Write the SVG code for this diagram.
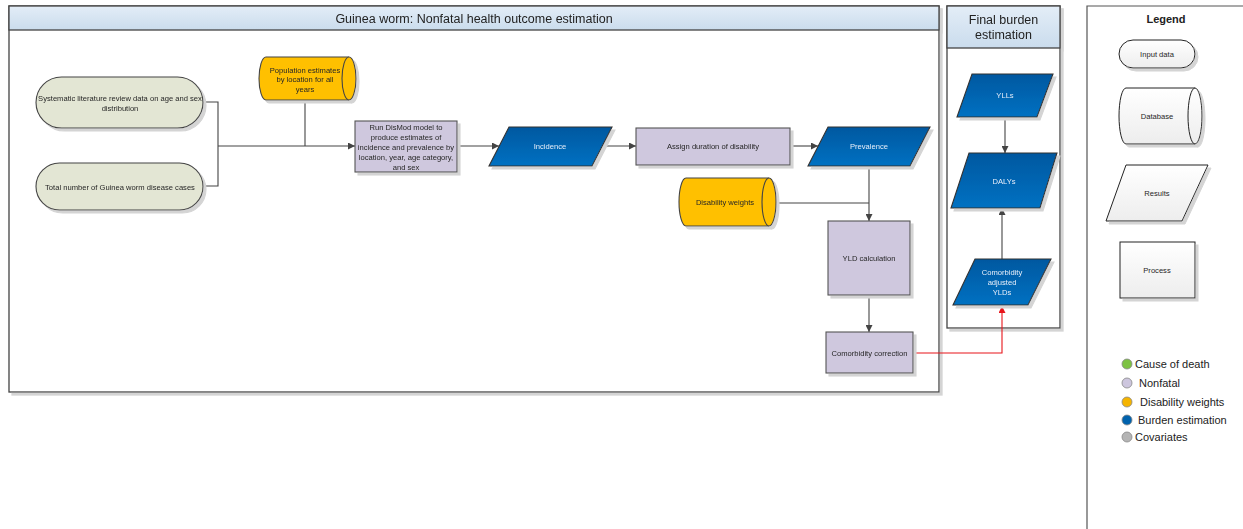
<svg xmlns="http://www.w3.org/2000/svg" width="1243" height="529" viewBox="0 0 1243 529">
  <style>
    .lbl { font-family: "Liberation Sans", Arial, sans-serif; font-size: 7.6px; fill: #262626; text-anchor: middle; dominant-baseline: central; }
    .wlbl { font-family: "Liberation Sans", Arial, sans-serif; font-size: 7.6px; fill: #e6eefa; text-anchor: middle; dominant-baseline: central; }
    .title { font-family: "Liberation Sans", Arial, sans-serif; font-size: 12.5px; fill: #222; text-anchor: middle; dominant-baseline: central; }
    .leg { font-family: "Liberation Sans", Arial, sans-serif; font-size: 11px; fill: #222; dominant-baseline: central; }
    .frame { fill: #fff; stroke: #444; stroke-width: 1.3; }
    .hdr { fill: url(#hdrGrad); stroke: #444; stroke-width: 1.3; }
    .input { fill: #e3e6d4; stroke: #444; stroke-width: 1.1; }
    .db { fill: #ffc000; stroke: #444; stroke-width: 1.1; }
    .proc { fill: #cfc8de; stroke: #555; stroke-width: 1.1; }
    .res { fill: url(#blueGrad); stroke: #333; stroke-width: 1.1; }
    .lgshape { fill: url(#legGrad); stroke: #222; stroke-width: 1; }
    .conn { fill: none; stroke: #444; stroke-width: 1.1; }
    .red { fill: none; stroke: #e8151b; stroke-width: 1.1; }
  </style>
  <defs>
    <linearGradient id="hdrGrad" x1="0" y1="0" x2="0" y2="1">
      <stop offset="0" stop-color="#e3edf7"/>
      <stop offset="1" stop-color="#cadced"/>
    </linearGradient>
    <linearGradient id="blueGrad" x1="0" y1="0" x2="0" y2="1">
      <stop offset="0" stop-color="#0058a0"/>
      <stop offset="1" stop-color="#0071c2"/>
    </linearGradient>
    <linearGradient id="legGrad" x1="0" y1="0" x2="0" y2="1">
      <stop offset="0" stop-color="#ffffff"/>
      <stop offset="1" stop-color="#ededed"/>
    </linearGradient>
    <filter id="shadow" x="-10%" y="-10%" width="130%" height="140%">
      <feOffset in="SourceAlpha" dx="2.5" dy="2.5" result="off"/>
      <feFlood flood-color="#d4d4d4"/>
      <feComposite in2="off" operator="in" result="sh"/>
      <feMerge><feMergeNode in="sh"/><feMergeNode in="SourceGraphic"/></feMerge>
    </filter>
    <marker id="arr" viewBox="0 0 10 10" refX="10" refY="5" markerWidth="7" markerHeight="7" markerUnits="userSpaceOnUse" orient="auto">
      <path d="M0,0 L10,5 L0,10 Z" fill="#444"/>
    </marker>
    <marker id="arrRed" viewBox="0 0 10 10" refX="10" refY="5" markerWidth="7" markerHeight="7" markerUnits="userSpaceOnUse" orient="auto">
      <path d="M0,0 L10,5 L0,10 Z" fill="#e8151b"/>
    </marker>
  </defs>

  <rect width="1243" height="529" fill="#ffffff"/>

  <!-- Swimlane: nonfatal estimation -->
  <g id="lane-nonfatal" filter="url(#shadow)">
    <rect class="frame" x="9" y="6" width="930" height="386"/>
    <rect class="hdr" x="9" y="6" width="930" height="24"/>
    <text class="title" x="474" y="18.5">Guinea worm: Nonfatal health outcome estimation</text>
  </g>

  <!-- Swimlane: final burden -->
  <g id="lane-burden" filter="url(#shadow)">
    <rect class="frame" x="947" y="6" width="113" height="322"/>
    <rect class="hdr" x="947" y="6" width="113" height="42"/>
    <text class="title" x="1003.5" y="20">Final burden</text>
    <text class="title" x="1003.5" y="35">estimation</text>
  </g>

  <!-- Legend panel -->
  <g id="legend">
    <path d="M1087,529 V6 H1243" fill="none" stroke="#555" stroke-width="1.2"/>
    <text class="leg" x="1166" y="19" text-anchor="middle" font-weight="bold">Legend</text>
    <g filter="url(#shadow)">
      <rect class="lgshape" x="1119" y="40" width="76" height="28" rx="14"/>
      <path class="lgshape" d="M1126,88 H1195 A7,28 0 0 1 1195,144 H1126 A7,28 0 0 1 1126,88 Z"/>
      <path class="lgshape" d="M1195,88 A7,28 0 0 0 1195,144" fill="none"/>
      <path class="lgshape" d="M1126,165 H1208 L1182,221 H1106 Z"/>
      <rect class="lgshape" x="1120" y="242" width="75" height="56"/>
    </g>
    <text class="lbl" x="1157" y="54">Input data</text>
    <text class="lbl" x="1157" y="116">Database</text>
    <text class="lbl" x="1157" y="193">Results</text>
    <text class="lbl" x="1157" y="270">Process</text>
    <g stroke="#888" stroke-width="0.8">
      <circle cx="1127" cy="364" r="5" fill="#7dc243"/>
      <circle cx="1127" cy="383" r="5" fill="#cdc6de"/>
      <circle cx="1127" cy="402" r="5" fill="#f5b400"/>
      <circle cx="1127" cy="420" r="5" fill="#0062ad"/>
      <circle cx="1127" cy="437" r="5" fill="#b4b4b4"/>
    </g>
    <text class="leg" x="1135" y="364">Cause of death</text>
    <text class="leg" x="1139" y="383">Nonfatal</text>
    <text class="leg" x="1140" y="402">Disability weights</text>
    <text class="leg" x="1138" y="420">Burden estimation</text>
    <text class="leg" x="1135" y="437">Covariates</text>
  </g>

  <!-- Connectors -->
  <g id="connectors">
    <path class="conn" d="M203,102 H218 V186 H203"/>
    <path class="conn" d="M218,146 H355" marker-end="url(#arr)"/>
    <path class="conn" d="M305,100 V146"/>
    <path class="conn" d="M457,146 H499" marker-end="url(#arr)"/>
    <path class="conn" d="M602,146 H636" marker-end="url(#arr)"/>
    <path class="conn" d="M790,146 H818" marker-end="url(#arr)"/>
    <path class="conn" d="M869,166 V221" marker-end="url(#arr)"/>
    <path class="conn" d="M775,203 H869"/>
    <path class="conn" d="M869,295 V332" marker-end="url(#arr)"/>
    <path class="conn" d="M1005,117 V153" marker-end="url(#arr)"/>
    <path class="conn" d="M1002,259 V208" marker-end="url(#arr)"/>
    <path class="red" d="M913,353 H1002 V306" marker-end="url(#arrRed)"/>
  </g>

  <!-- Nodes -->
  <g id="n-literature" filter="url(#shadow)">
    <rect class="input" x="36" y="77" width="167" height="51" rx="25.5"/>
    <text class="lbl" x="120" y="98">Systematic literature review data on age and sex</text>
    <text class="lbl" x="120" y="108">distribution</text>
  </g>

  <g id="n-cases" filter="url(#shadow)">
    <rect class="input" x="36" y="163" width="167" height="47" rx="23.5"/>
    <text class="lbl" x="120" y="187">Total number of Guinea worm disease cases</text>
  </g>

  <g id="n-population" filter="url(#shadow)">
    <path class="db" d="M266,57 H349 A7,21.5 0 0 1 349,100 H266 A7,21.5 0 0 1 266,57 Z"/>
    <path class="db" d="M349,57 A7,21.5 0 0 0 349,100" fill="none"/>
    <text class="lbl" x="305" y="70">Population estimates</text>
    <text class="lbl" x="305" y="79.5">by location for all</text>
    <text class="lbl" x="305" y="89">years</text>
  </g>

  <g id="n-dismod" filter="url(#shadow)">
    <rect class="proc" x="355" y="121" width="102" height="51"/>
    <text class="lbl" x="406" y="127">Run DisMod model to</text>
    <text class="lbl" x="406" y="137">produce estimates of</text>
    <text class="lbl" x="406" y="147">incidence and prevalence by</text>
    <text class="lbl" x="406" y="157">location, year, age category,</text>
    <text class="lbl" x="406" y="167">and sex</text>
  </g>

  <g id="n-incidence" filter="url(#shadow)">
    <path class="res" d="M509,127 H612 L592,166 H489 Z"/>
    <text class="wlbl" x="550" y="146.5">Incidence</text>
  </g>

  <g id="n-duration" filter="url(#shadow)">
    <rect class="proc" x="636" y="128" width="154" height="37"/>
    <text class="lbl" x="713" y="146.5">Assign duration of disability</text>
  </g>

  <g id="n-prevalence" filter="url(#shadow)">
    <path class="res" d="M828,127 H930 L910,166 H808 Z"/>
    <text class="wlbl" x="869" y="146.5">Prevalence</text>
  </g>

  <g id="n-weights" filter="url(#shadow)">
    <path class="db" d="M686,178 H769 A7,24 0 0 1 769,226 H686 A7,24 0 0 1 686,178 Z"/>
    <path class="db" d="M769,178 A7,24 0 0 0 769,226" fill="none"/>
    <text class="lbl" x="725" y="202">Disability weights</text>
  </g>

  <g id="n-yld" filter="url(#shadow)">
    <rect class="proc" x="828" y="221" width="82" height="74"/>
    <text class="lbl" x="869" y="258">YLD calculation</text>
  </g>

  <g id="n-comorbidity" filter="url(#shadow)">
    <rect class="proc" x="826" y="332" width="87" height="41"/>
    <text class="lbl" x="869.5" y="353">Comorbidity correction</text>
  </g>

  <g id="n-ylls" filter="url(#shadow)">
    <path class="res" d="M972,74 H1053 L1037,117 H957 Z"/>
    <text class="wlbl" x="1005" y="95.5">YLLs</text>
  </g>

  <g id="n-dalys" filter="url(#shadow)">
    <path class="res" d="M969,153 H1057 L1040,208 H951 Z"/>
    <text class="wlbl" x="1004" y="181">DALYs</text>
  </g>

  <g id="n-adjusted" filter="url(#shadow)">
    <path class="res" d="M975,259 H1051 L1028,305 H953 Z"/>
    <text class="wlbl" x="1002" y="272">Comorbidity</text>
    <text class="wlbl" x="1002" y="282">adjusted</text>
    <text class="wlbl" x="1002" y="292">YLDs</text>
  </g>
</svg>
